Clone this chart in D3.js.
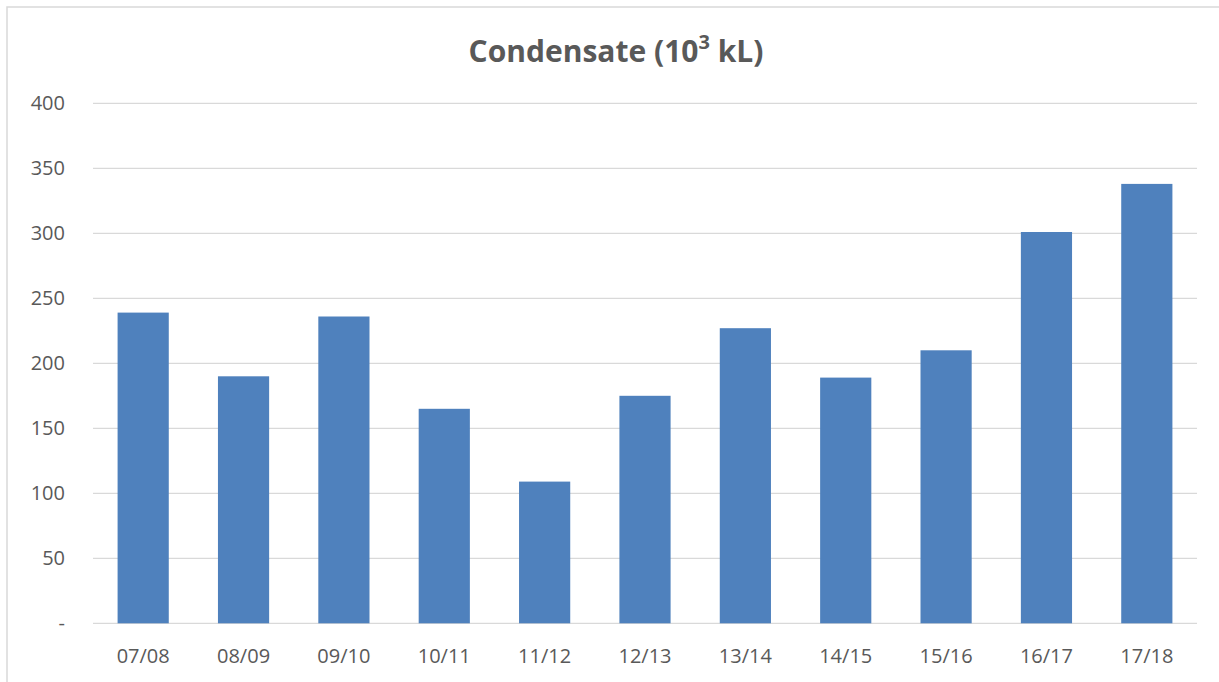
<!DOCTYPE html>
<html>
<head>
<meta charset="utf-8">
<script src="https://cdn.jsdelivr.net/npm/d3@7"></script>
<style>
  body { margin: 0; background: #fff; }
  svg { display: block; font-family: "Open Sans", "Liberation Sans", sans-serif; }
</style>
</head>
<body>
<script>
// chart data
const years = ["07/08", "08/09", "09/10", "10/11", "11/12", "12/13", "13/14", "14/15", "15/16", "16/17", "17/18"]
const condensate = [239, 190, 236, 165, 109, 175, 227, 189, 210, 301, 338]
const yTicks = [0, 50, 100, 150, 200, 250, 300, 350, 400]
const yTickLabels = ["-", "50", "100", "150", "200", "250", "300", "350", "400"]

const width = 1219, height = 682
const margin = { top: 103, right: 22, bottom: 58, left: 93 }

const svg = d3.select("body").append("svg")
    .attr("width", width)
    .attr("height", height)

// chart frame
svg.append("rect")
    .attr("x", 7).attr("y", 7)
    .attr("width", width + 20).attr("height", height + 20)
    .attr("fill", "none")
    .attr("stroke", "#d9d9d9")
    .attr("stroke-width", 1.5)

const x = d3.scaleBand()
    .domain(years)
    .range([margin.left, width - margin.right])
    .paddingInner(0.49)
    .paddingOuter(0.245)

const y = d3.scaleLinear()
    .domain([0, 400])
    .range([height - margin.bottom - 0.7, margin.top + 0.3])

// gridlines
svg.append("g")
    .selectAll("line")
    .data(yTicks)
    .enter()
    .append("line")
    .attr("x1", margin.left)
    .attr("x2", width - margin.right)
    .attr("y1", d => y(d))
    .attr("y2", d => y(d))
    .attr("stroke", "#d9d9d9")
    .attr("stroke-width", 1.3)

// y labels
svg.append("g")
    .selectAll("text")
    .data(yTicks)
    .enter()
    .append("text")
    .attr("x", 65)
    .attr("y", d => y(d) + 7)
    .attr("text-anchor", "end")
    .attr("font-size", "20px")
    .attr("fill", "#595959")
    .text((d, i) => yTickLabels[i])

// bars
svg.append("g")
    .selectAll("rect")
    .data(condensate)
    .enter()
    .append("rect")
    .attr("x", (d, i) => x(years[i]))
    .attr("width", x.bandwidth())
    .attr("y", d => y(d))
    .attr("height", d => y(0) - y(d))
    .attr("fill", "#4f81bd")

// x labels
svg.append("g")
    .selectAll("text")
    .data(years)
    .enter()
    .append("text")
    .attr("x", d => x(d) + x.bandwidth() / 2)
    .attr("y", 663)
    .attr("text-anchor", "middle")
    .attr("font-size", "20px")
    .attr("fill", "#595959")
    .text(d => d)

// title
const title = svg.append("text")
    .attr("x", 616)
    .attr("y", 62)
    .attr("text-anchor", "middle")
    .attr("font-size", "30px")
    .attr("font-weight", "bold")
    .attr("fill", "#595959")
title.append("tspan").text("Condensate (10")
title.append("tspan").attr("font-size", "20px").attr("dy", -13).text("3")
title.append("tspan").attr("dy", 13).text(" kL)")
</script>
</body>
</html>
